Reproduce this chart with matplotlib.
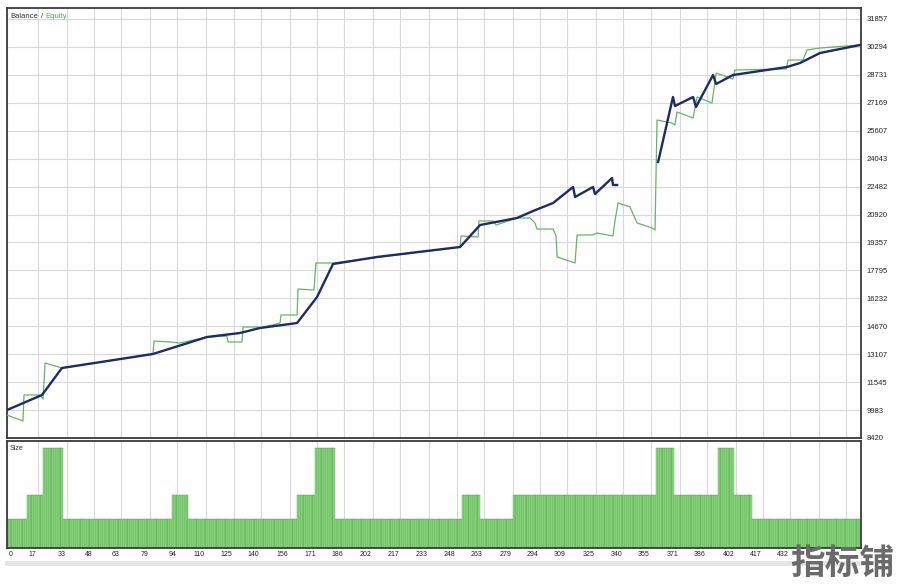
import numpy as np
import matplotlib
matplotlib.use("Agg")
import matplotlib.pyplot as plt
from matplotlib.lines import Line2D

plt.rcParams['font.family'] = ['Liberation Sans', 'DejaVu Sans']

# ---------------- data ----------------
balance_trade = [0, 19.3, 30.3, 80.5, 110.3, 128.5, 139.5, 160.0, 171.0, 179.8, 204.0, 249.9,
                 260.9, 281.3, 290.1, 301.2, 312.2, 313.3, 323.2, 324.3, 333.7, 334.2, 336.5,
                 np.nan,
                 359.1, 367.3, 368.4, 378.4, 380.0, 389.4, 391.1, 400.4, 430.2, 437.4, 448.4, 470.5]
balance_value = [9986, 10825, 12335, 13119, 14069, 14293, 14573, 14852, 16307, 18153, 18544, 19104,
                 20334, 20726, 21117, 21565, 22460, 21900, 22460, 22068, 22963, 22572, 22572,
                 np.nan,
                 23858, 27494, 26990, 27494, 26934, 28724, 28221, 28724, 29172, 29396, 29955, 30402]

equity_trade = [0, 8.8, 9.4, 18.2, 19.9, 21.0, 30.3, 80.5, 81.1, 89.9, 95.4, 110.3,
                121.3, 121.9, 129.6, 130.2, 138.4, 139.5, 150.6, 151.1, 160.0, 160.5,
                169.3, 170.4, 179.8, 249.9, 250.4, 259.8, 260.3, 268.1, 269.7, 281.3,
                288.5, 291.2, 292.3, 301.2, 302.8, 303.4, 313.3, 314.4, 323.2, 325.4,
                334.2, 335.4, 337.0, 343.6, 347.5, 355.8, 357.4, 358.5, 366.8, 368.4,
                369.5, 378.4, 380.6, 388.8, 391.1, 400.4, 401.5, 429.7, 430.8, 439.0,
                441.2, 448.4, 470.5]
equity_value = [9707, 9371, 10825, 10825, 10601, 12615, 12335, 13119, 13846, 13790, 13734, 14069,
                14125, 13790, 13790, 14629, 14629, 14573, 14852, 15300, 15300, 16754,
                16698, 18209, 18209, 19104, 19719, 19663, 20558, 20558, 20334, 20726,
                20726, 20446, 20110, 20110, 19719, 18544, 18209, 19775, 19775, 19887,
                19719, 20614, 21565, 21341, 20446, 20166, 20054, 26207, 26040, 25928,
                26655, 26319, 27494, 27158, 28836, 28501, 29004, 29060, 29563, 29563,
                30123, 30235, 30402]

# lot size runs: first trade of each run and lot size of the run
size_run_start = [0, 11, 20, 31, 91, 100, 160, 170, 181, 251, 261, 279, 358, 368, 392, 401, 411]
size_run_lots = [0.1, 0.2, 0.4, 0.1, 0.2, 0.1, 0.2, 0.4, 0.1, 0.2, 0.1, 0.2, 0.4, 0.2, 0.4, 0.2, 0.1]
total_trades = 471

x_grid_values = [0, 17, 33, 48, 63, 79, 94, 110, 125, 140, 156, 171, 186, 202, 217, 233, 248,
                 263, 279, 294, 309, 325, 340, 355, 371, 386, 402, 417, 432, 448, 463]
x_label_values = [0, 17, 33, 48, 63, 79, 94, 110, 125, 140, 156, 171, 186, 202, 217, 233, 248,
                  263, 279, 294, 309, 325, 340, 355, 371, 386, 402, 417, 432]
y_tick_values = [8420, 9983, 11545, 13107, 14670, 16232, 17795, 19357, 20920, 22482, 24043,
                 25607, 27169, 28731, 30294, 31857]

# ---------------- figure ----------------
W, H = 903, 586
fig = plt.figure(figsize=(W / 100, H / 100), dpi=100)
fig.patch.set_facecolor('white')

def box(l, t, r, b):
    return [l / W, 1 - b / H, (r - l) / W, (b - t) / H]

ax = fig.add_axes(box(7, 8, 861, 438))
ax2 = fig.add_axes(box(7, 441, 861, 548))

grid_c = '#d9d9d9'
spine_c = '#3a3a3a'
for a in (ax, ax2):
    a.set_xlim(0, total_trades)
    a.set_xticks(x_grid_values)
    a.grid(True, axis='x', color=grid_c, lw=0.8)
    a.set_axisbelow(True)
    for s in a.spines.values():
        s.set_color(spine_c)
        s.set_linewidth(1.3)

# main panel
ax.set_ylim(8420, 32472)
ax.set_yticks(y_tick_values)
ax.set_yticklabels([str(v) for v in y_tick_values])
ax.yaxis.tick_right()
ax.tick_params(axis='y', length=0, pad=4, labelsize=5.5, labelcolor='#222222')
ax.tick_params(axis='x', length=0, labelbottom=False)
ax.grid(True, axis='y', color=grid_c, lw=0.8)

ax.plot(equity_trade, equity_value, color='#66b466', lw=0.9, zorder=3)
ax.plot(balance_trade, balance_value, color='#1f2a68', lw=1.7, zorder=4)

ax.text(3 / 854, 1 - 5 / 430, 'Balance', transform=ax.transAxes, fontsize=5.5,
        color='#333333', va='top', ha='left')
ax.text(34 / 854, 1 - 5 / 430, '/', transform=ax.transAxes, fontsize=5.5,
        color='#333333', va='top', ha='left')
ax.text(38 / 854, 1 - 5 / 430, 'Equity', transform=ax.transAxes, fontsize=5.5,
        color='#4fb04f', va='top', ha='left')

# size panel
run_end = size_run_start[1:] + [total_trades]
lengths = np.array(run_end) - np.array(size_run_start)
lots = np.repeat(size_run_lots, lengths)
trades = np.arange(total_trades) + 0.5
ybot = -0.0225
ax2.set_ylim(ybot, 0.4296)
ax2.bar(trades, lots - ybot, bottom=ybot, width=1.0, color='#93de85',
        edgecolor='#3f8f3f', linewidth=0.25, zorder=2)
ax2.set_yticks([])
ax2.tick_params(axis='x', length=0, labelbottom=False)
for i, v in enumerate(x_label_values):
    ax2.annotate(str(v), xy=(v, 0), xycoords=('data', 'axes fraction'),
                 xytext=(1 if i == 0 else -1, -2.5), textcoords='offset points',
                 ha='left' if i == 0 else 'right', va='top', fontsize=5, color='#222222')
ax2.text(3 / 854, 1 - 4 / 107, 'Size', transform=ax2.transAxes, fontsize=5,
         color='#333333', va='top', ha='left')

# light band under axis labels
fig.add_artist(Line2D([7 / W, 861 / W], [1 - 563 / H] * 2, color='#e4e4e4', lw=3.5))

# watermark
fig.text(790 / W, 1 - 581 / H, '指标铺', fontsize=25, fontweight='bold', color='#6a6a6a',
         family=['Noto Sans CJK SC', 'DejaVu Sans'], ha='left', va='bottom', zorder=10)

fig.savefig('out.png', dpi=100, facecolor='white')
